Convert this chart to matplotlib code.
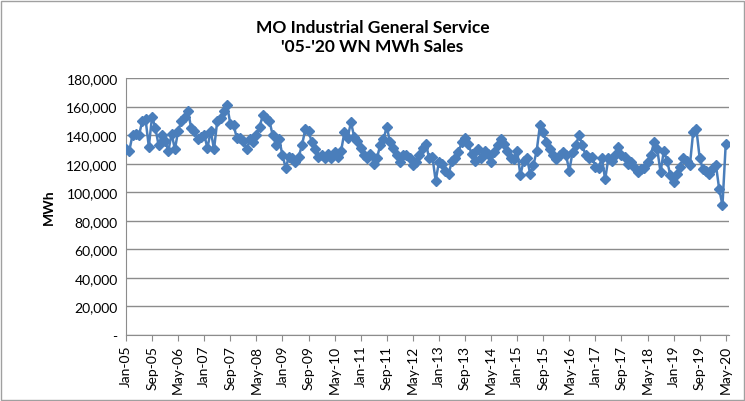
import matplotlib
matplotlib.use("Agg")
import matplotlib.pyplot as plt
from matplotlib.ticker import FuncFormatter, FixedLocator
from matplotlib.patches import Rectangle

plt.rcParams['font.family'] = ['Lato', 'DejaVu Sans']

months = ['Jan', 'Feb', 'Mar', 'Apr', 'May', 'Jun',
          'Jul', 'Aug', 'Sep', 'Oct', 'Nov', 'Dec']
years = list(range(2005, 2021))

# monthly weather-normalized sales (MWh), Jan-05 .. May-20
sales = [
    130000, 129000, 140000, 141000, 140000, 150000, 151000, 132000, 153000, 145000, 133000, 140000,  # 2005
    136000, 129000, 141000, 130000, 143000, 150000, 153000, 157000, 145000, 143000, 137000, 139000,  # 2006
    140000, 131000, 143000, 130000, 150000, 152000, 157000, 161000, 148000, 147000, 138000, 138000,  # 2007
    136000, 130000, 137000, 135000, 140000, 146000, 154000, 152000, 150000, 140000, 133000, 137000,  # 2008
    126000, 117000, 125000, 124000, 121000, 125000, 133000, 144000, 143000, 135000, 130000, 125000,  # 2009
    126000, 124000, 127000, 124000, 128000, 125000, 129000, 142000, 138000, 149000, 139000, 136000,  # 2010
    131000, 126000, 124000, 127000, 120000, 124000, 133000, 137000, 146000, 135000, 131000, 126000,  # 2011
    121000, 126000, 126000, 124000, 119000, 121000, 126000, 131000, 134000, 124000, 125000, 108000,  # 2012
    121000, 120000, 115000, 113000, 122000, 124000, 128000, 135000, 138000, 134000, 127000, 122000,  # 2013
    130000, 124000, 129000, 127000, 121000, 128000, 133000, 137000, 134000, 129000, 124000, 123000,  # 2014
    129000, 112000, 122000, 124000, 113000, 119000, 129000, 147000, 142000, 135000, 130000, 126000,  # 2015
    123000, 126000, 128000, 126000, 115000, 128000, 133000, 140000, 133000, 126000, 124000, 125000,  # 2016
    118000, 117000, 124000, 109000, 124000, 122000, 126000, 132000, 126000, 125000, 120000, 121000,  # 2017
    118000, 114000, 116000, 117000, 121000, 126000, 135000, 130000, 114000, 129000, 122000, 112000,  # 2018
    107000, 113000, 118000, 124000, 122000, 119000, 142000, 144000, 124000, 116000, 115000, 113000,  # 2019
    117000, 119000, 102000, 91000, 134000,                                                           # 2020
]

labels = [f"{months[i % 12]}-{str(years[i // 12])[2:]}" for i in range(len(sales))]
x = list(range(len(sales)))

fig = plt.figure(figsize=(7.45, 4.02), dpi=100)
ax = fig.add_axes([126 / 745, 1 - 336 / 402, (729 - 126) / 745, (336 - 79) / 402])

# chart border
fig.patches.append(Rectangle((0.002, 0.002), 0.996, 0.994, transform=fig.transFigure,
                             fill=False, edgecolor='#a0a0a0', linewidth=1))

ax.plot(x, sales, color='#4a7ebb', linewidth=1.8, marker='D', markersize=5,
        markeredgecolor='#4a7ebb', markerfacecolor='#4a7ebb', zorder=3)

ax.set_xlim(0, len(sales))
ax.set_ylim(0, 180000)
ax.set_yticks(range(0, 180001, 20000))
ax.yaxis.set_major_formatter(FuncFormatter(lambda v, p: '-' if v == 0 else f"{int(v):,}"))
ax.grid(axis='y', color='#8c8c8c', linewidth=1)
ax.set_axisbelow(True)

tick_pos = x[::8]
ax.xaxis.set_major_locator(FixedLocator(tick_pos))
ax.set_xticklabels([labels[i] for i in tick_pos], rotation=90, fontsize=10)
ax.tick_params(axis='y', labelsize=10, length=0, pad=6)
ax.tick_params(axis='x', length=4, color='#8c8c8c', pad=3)

for s in ['top', 'right']:
    ax.spines[s].set_visible(False)
ax.spines['left'].set_color('#8c8c8c')
ax.spines['bottom'].set_color('#8c8c8c')

ax.set_ylabel('MWh', fontsize=10, fontweight='bold', labelpad=8)
fig.text(0.5, 1 - 28 / 402, "MO Industrial General Service", ha='center', va='center',
         fontsize=12.5, fontweight='bold')
fig.text(0.5, 1 - 47 / 402, "'05-'20 WN MWh Sales", ha='center', va='center',
         fontsize=12.5, fontweight='bold')

fig.savefig('out.png', dpi=100)
